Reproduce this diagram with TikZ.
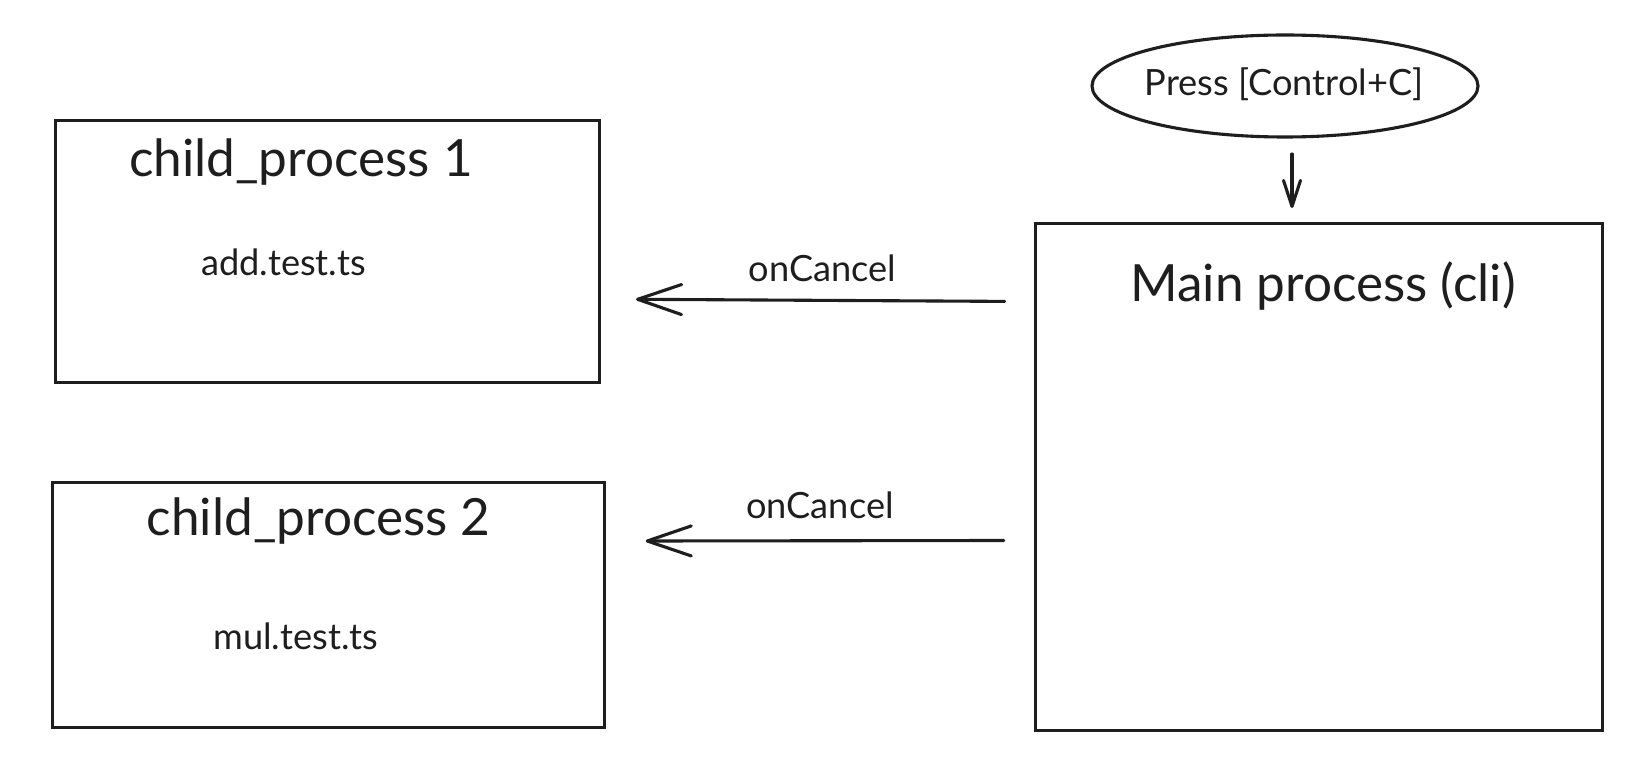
\documentclass[tikz,border=0pt]{standalone}
\usepackage{fontspec}
\setmainfont{Lato}
\usetikzlibrary{arrows.meta,shapes.geometric}
\definecolor{ink}{HTML}{1E1E1E}
\tikzset{
  box/.style={draw=ink, line width=3.1pt, rectangle, inner sep=0pt},
  oval/.style={draw=ink, line width=3.1pt, ellipse, inner sep=0pt},
  big/.style={text=ink, inner sep=0pt, font=\fontsize{51.3}{60}\selectfont},
  small/.style={text=ink, inner sep=0pt, font=\fontsize{36.2}{42}\selectfont},
  conn/.style={draw=ink, line width=3.1pt, line cap=round},
  bigtip/.style={-{Straight Barb[length=44pt, width=30pt, line width=3.1pt, round]}},
  smalltip/.style={-{Straight Barb[length=26pt, width=17pt, line width=3.1pt, round]}},
}
\begin{document}
\begin{tikzpicture}[x=1pt, y=-1pt]
\useasboundingbox[fill=white] (0,0) rectangle (1641,783);
% boxes
\node[box, minimum width=544pt, minimum height=262pt] (c1) at (327.6,251.2) {};
\node[box, minimum width=552pt, minimum height=245pt] (c2) at (328.1,605) {};
\node[box, minimum width=567pt, minimum height=507pt] (mn) at (1318.6,476.8) {};
\node[oval, minimum width=386pt, minimum height=102pt] (pr) at (1285,86) {};
% texts
\node[big, anchor=base] (t1) at (301,177) {child\_process 1};
\node[small, anchor=base] (s1) at (283.5,276) {add.test.ts};
\node[big, anchor=base] (t2) at (318.7,535) {child\_process 2};
\node[small, anchor=base] (s2) at (295.8,649) {mul.test.ts};
\node[big, anchor=base] (tm) at (1323,302) {Main process (cli)};
\node[small, anchor=base] (tp) at (1284,96) {Press [Control+C]};
\node[small, anchor=base] (l1) at (822.5,282) {onCancel};
\node[small, anchor=base] (l2) at (820,518) {onCancel};
% connectors
\coordinate (a1s) at (1004.7,301.4);
\coordinate (a1e) at (636,299.3);
\coordinate (a2s) at (1003.7,540.5);
\coordinate (a2e) at (645.7,541);
\coordinate (a3s) at (1292,154);
\coordinate (a3e) at (1292,208);
\draw[conn, bigtip] (a1s) -- (a1e);
\draw[conn, bigtip] (a2s) -- (a2e);
\draw[conn, smalltip] (a3s) -- (a3e);
\end{tikzpicture}
\end{document}
